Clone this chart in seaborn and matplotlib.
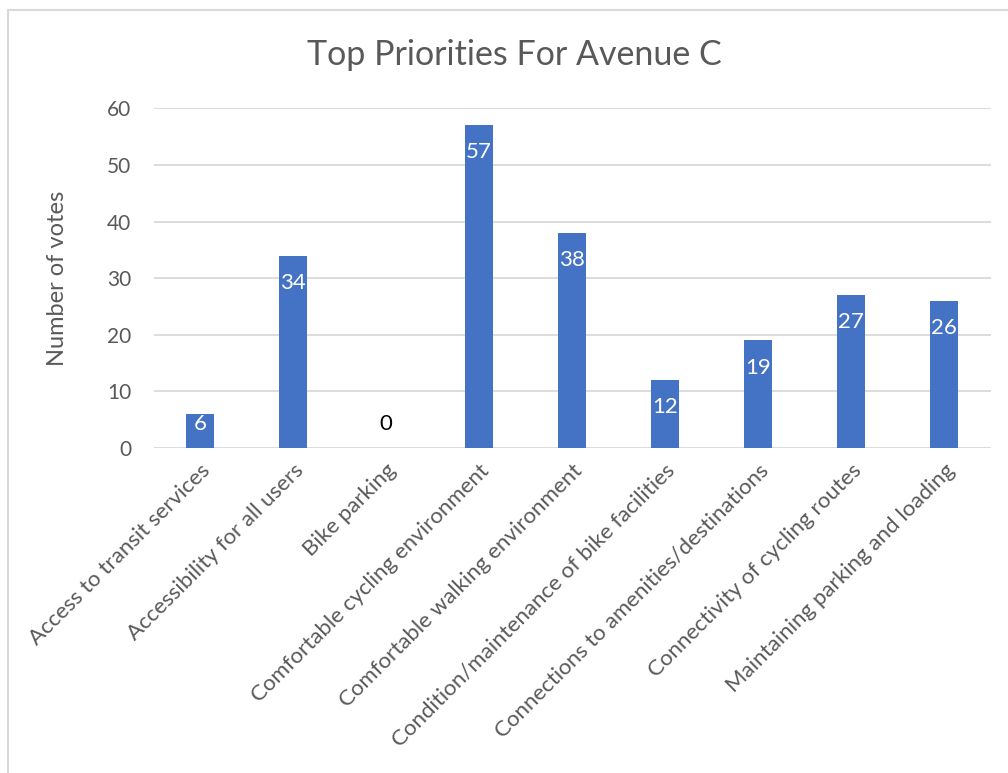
import matplotlib
matplotlib.use("Agg")
import matplotlib.pyplot as plt
from matplotlib.lines import Line2D
import seaborn as sns
import pandas as pd

categories = [
    "Access to transit services",
    "Accessibility for all users",
    "Bike parking",
    "Comfortable cycling environment",
    "Comfortable walking environment",
    "Condition/maintenance of bike facilities",
    "Connections to amenities/destinations",
    "Connectivity of cycling routes",
    "Maintaining parking and loading",
]
votes = [6, 34, 0, 57, 38, 12, 19, 27, 26]
y_ticks = [0, 10, 20, 30, 40, 50, 60]

title = "Top Priorities For Avenue C"
y_label = "Number of votes"

BAR = "#4472C4"
TEXT = "#595959"
GRID = "#D9D9D9"

sns.set_theme(style="white")
plt.rcParams["font.family"] = ["Lato", "DejaVu Sans"]

df = pd.DataFrame({"category": categories, "votes": votes})

W, H = 1008, 773
fig = plt.figure(figsize=(W / 100, H / 100), dpi=100)
ax = fig.add_axes([153.5 / W, 1 - 448 / H, 837 / W, (448 - 108.3) / H])

sns.barplot(data=df, x="category", y="votes", color=BAR, width=0.31,
            saturation=1, linewidth=0, ax=ax, zorder=3)

ax.set_ylim(0, 60)
ax.set_xlim(-0.5, len(categories) - 0.5)
ax.set_yticks(y_ticks)
ax.set_yticklabels([str(t) for t in y_ticks], fontsize=15, color=TEXT)
ax.tick_params(axis="y", length=0, pad=16)
ax.tick_params(axis="x", length=0, pad=9)
ax.set_xticks(range(len(categories)))
ax.set_xticklabels(categories, rotation=45, ha="right", va="top",
                   rotation_mode="anchor", fontsize=16, color=TEXT)

ax.yaxis.grid(True, color=GRID, linewidth=1.3, zorder=0)
ax.xaxis.grid(False)
for s in ax.spines.values():
    s.set_visible(False)
ax.set_xlabel("")
ax.set_ylabel("")

# value labels near the bar top; short bars keep the label clear of the baseline
top_gap = 19.5   # points from bar top to label centre
min_rise = 17.5  # points from baseline to label centre
for i, v in enumerate(votes):
    y_bar = ax.transData.transform((i, v))[1]
    y_base = ax.transData.transform((i, 0))[1]
    rise_pts = (y_bar - y_base) * 72 / fig.dpi
    centre = max(rise_pts - top_gap, min_rise)
    colour = "white" if v > 0 else "black"
    ax.annotate(str(v), (i, 0), xytext=(0, centre), textcoords="offset points",
                ha="center", va="center", color=colour, fontsize=16, zorder=4)

fig.text(514 / W, 1 - 55 / H, title, ha="center", va="center",
         fontsize=24.5, color=TEXT)
fig.text(58 / W, 1 - 278 / H, y_label, ha="center", va="center",
         rotation=90, fontsize=17, color=TEXT)

# chart area frame
fig.add_artist(Line2D([8 / W, 8 / W], [0, 1 - 10 / H], transform=fig.transFigure,
                      color=GRID, linewidth=1.5))
fig.add_artist(Line2D([8 / W, 1], [1 - 10 / H, 1 - 10 / H], transform=fig.transFigure,
                      color=GRID, linewidth=1.5))

fig.savefig("out.png", dpi=100, facecolor="white")
